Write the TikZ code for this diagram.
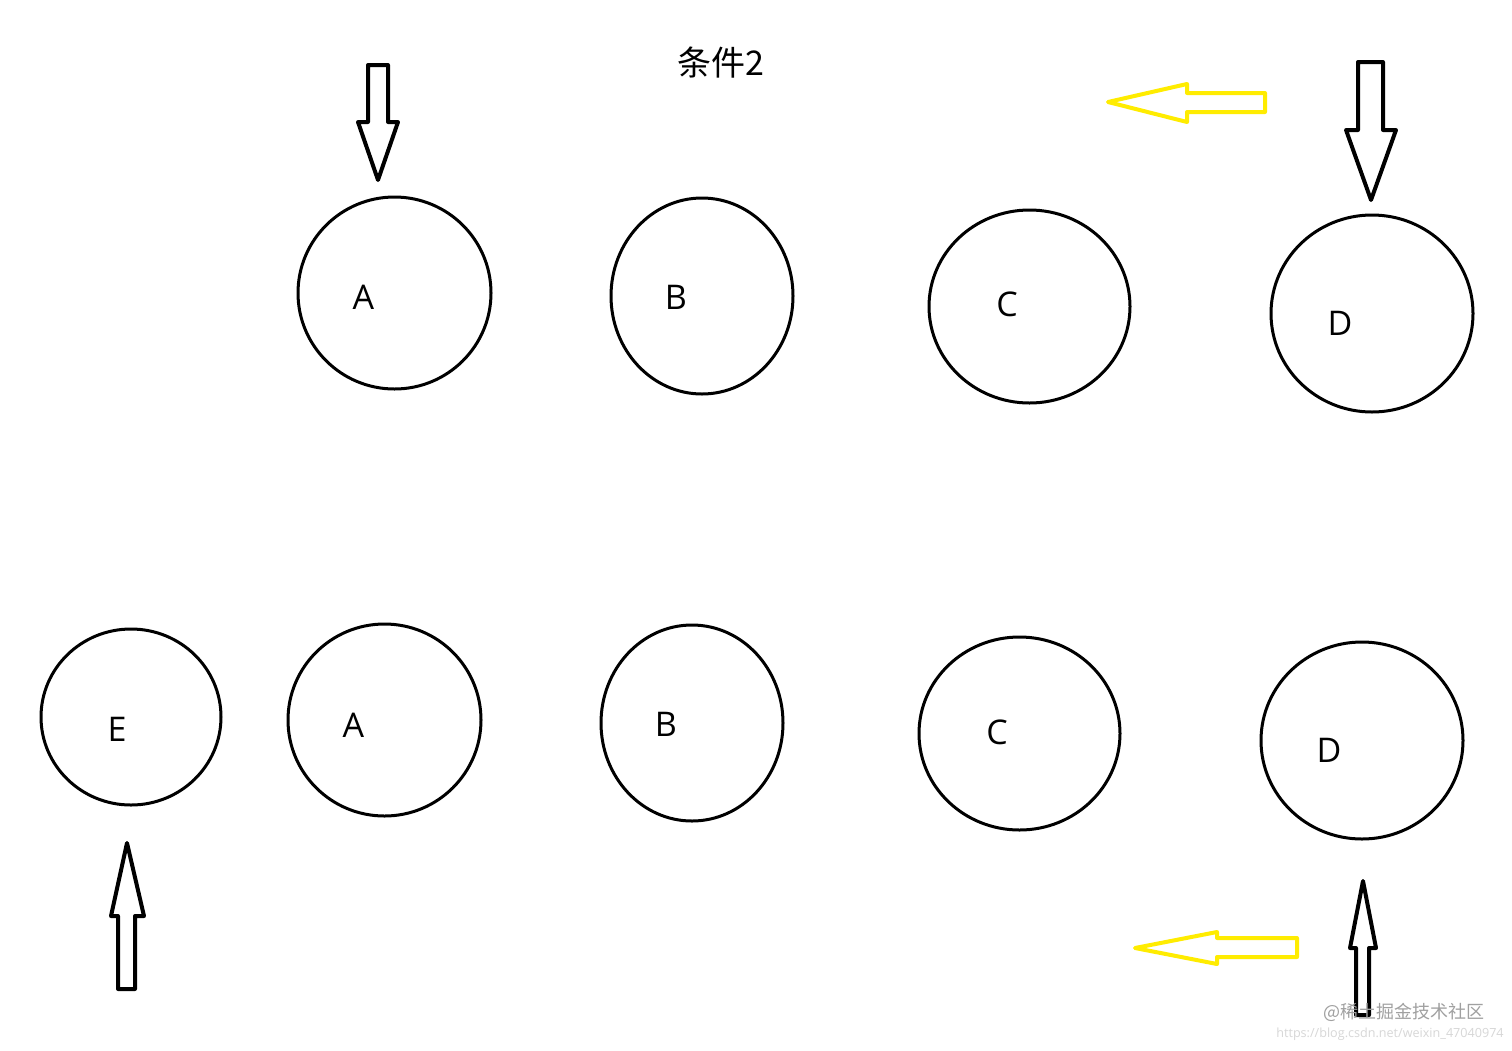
\documentclass[tikz,border=0pt]{standalone}
\usepackage{fontspec}
\setmainfont{Open Sans}
\newfontfamily\cjk{Noto Sans CJK SC}
\usetikzlibrary{shapes.geometric}
\definecolor{arrowyellow}{RGB}{255,236,0}
\definecolor{wmgray}{RGB}{160,160,160}
\definecolor{wmlight}{RGB}{215,215,215}
\begin{document}
\begin{tikzpicture}[x=1pt,y=-1pt,
  ball/.style={draw=black,line width=3pt,ellipse,inner sep=0pt},
  letter/.style={font=\fontsize{34}{34}\selectfont,inner sep=0pt},
  blockblack/.style={draw=black,line width=4pt,line join=round,fill=white},
  blockyellow/.style={draw=arrowyellow,line width=4pt,line join=round}]
\useasboundingbox[fill=white] (0,0) rectangle (1512,1050);
% title
\node[inner sep=0pt,font=\cjk\fontsize{34}{34}\selectfont] (title) at (721,63) {条件2};
% top row
\node[ball,minimum width=193pt,minimum height=192pt] (tA) at (394.5,293) {};
\node[ball,minimum width=182pt,minimum height=196pt] (tB) at (702,296) {};
\node[ball,minimum width=201pt,minimum height=193pt] (tC) at (1029.5,306.5) {};
\node[ball,minimum width=202pt,minimum height=197pt] (tD) at (1372,313.5) {};
\node[letter] (ltA) at (363.5,297.5) {A};
\node[letter] (ltB) at (676,297) {B};
\node[letter] (ltC) at (1007,304) {C};
\node[letter] (ltD) at (1340,323) {D};
% bottom row
\node[ball,minimum width=180pt,minimum height=176pt] (bE) at (131,717) {};
\node[ball,minimum width=193pt,minimum height=192pt] (bA) at (384.5,720) {};
\node[ball,minimum width=182pt,minimum height=196pt] (bB) at (692,723) {};
\node[ball,minimum width=201pt,minimum height=193pt] (bC) at (1019.5,733.5) {};
\node[ball,minimum width=202pt,minimum height=197pt] (bD) at (1362,740.5) {};
\node[letter] (lbE) at (117,729) {E};
\node[letter] (lbA) at (353.5,725.5) {A};
\node[letter] (lbB) at (666,724) {B};
\node[letter] (lbC) at (997,732) {C};
\node[letter] (lbD) at (1329,750) {D};
% black block arrows
\draw[blockblack] (368,65) -- (388,65) -- (388,122) -- (398,122) -- (378,180) -- (358,122) -- (368,122) -- cycle;
\draw[blockblack] (1358,62) -- (1383,62) -- (1383,130) -- (1396,130) -- (1371,200) -- (1346,130) -- (1358,130) -- cycle;
\draw[blockblack] (118,989) -- (135,989) -- (135,916) -- (144,916) -- (127,843) -- (111,916) -- (118,916) -- cycle;
\draw[blockblack] (1356,1015) -- (1369,1015) -- (1369,948) -- (1376,948) -- (1363,881) -- (1350,948) -- (1356,948) -- cycle;
% yellow block arrows
\draw[blockyellow] (1265,93) -- (1265,112) -- (1187,112) -- (1187,122) -- (1108,102) -- (1187,84) -- (1187,93) -- cycle;
\draw[blockyellow] (1297,938) -- (1297,957) -- (1217,957) -- (1217,964) -- (1135,948) -- (1217,932) -- (1217,938) -- cycle;
% watermark
\node[inner sep=0pt,text=wmgray,font=\cjk\fontsize{18}{18}\selectfont] (wm1) at (1404,1012) {@稀土掘金技术社区};
\node[inner sep=0pt,text=wmlight,font=\fontsize{12.6}{12.6}\selectfont] (wm2) at (1390,1034) {https://blog.csdn.net/weixin\_47040974};
\end{tikzpicture}
\end{document}
